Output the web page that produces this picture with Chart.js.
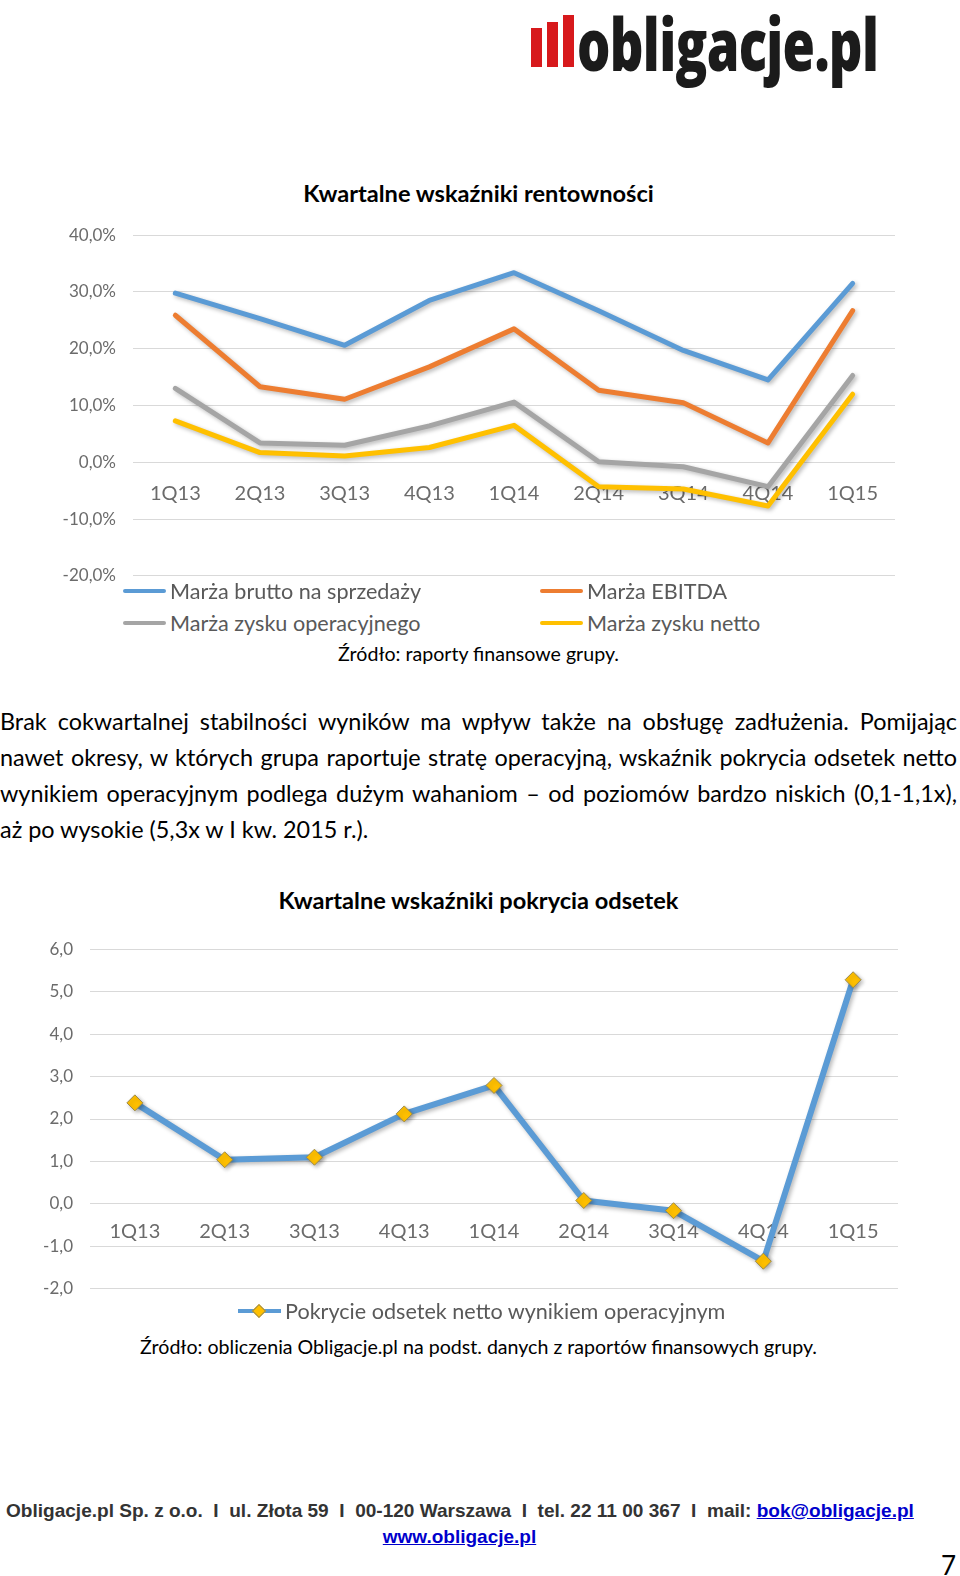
<!DOCTYPE html>
<html lang="pl">
<head>
<meta charset="utf-8">
<script src="https://cdn.jsdelivr.net/npm/chart.js@4.4.1/dist/chart.umd.min.js"></script>
<style>
  html, body { margin: 0; padding: 0; background: #fff; }
  body { position: relative; width: 960px; height: 1576px; overflow: hidden; font-family: Lato, "Open Sans", sans-serif; color: #000; }
  .abs { position: absolute; }
  .bar { position: absolute; background: #d7191c; width: 11px; }
  #logoText { position: absolute; left: 577px; top: 6px; font-family: "Open Sans", sans-serif; font-weight: 800; font-size: 73px; line-height: 73px; color: #1b1b1b; letter-spacing: -1px; transform-origin: 0 0; white-space: nowrap; }
  .title { position: absolute; left: 0; width: 957px; text-align: center; font-weight: bold; font-size: 23.6px; line-height: 28px; }
  .source { position: absolute; left: 0; width: 957px; text-align: center; font-size: 19.6px; line-height: 24px; }
  .para { position: absolute; left: 0; top: 704px; width: 957px; font-size: 23.4px; line-height: 35.9px; }
  .para span { display: block; text-align: justify; text-align-last: justify; white-space: nowrap; }
  .para span.last { text-align-last: left; }
  .leg { position: absolute; display: flex; align-items: center; font-size: 21.6px; color: #595959; white-space: nowrap; height: 26px; }
  .leg i { display: inline-block; width: 43px; height: 4px; margin-right: 4px; border-radius: 2px; }
  #footer { position: absolute; left: 6px; top: 1500px; font-family: "Liberation Sans Narrow", "Arial Narrow", "Liberation Sans", Arial, sans-serif; font-weight: bold; font-size: 19px; line-height: 22px; color: #333; white-space: nowrap; transform-origin: 0 0; }
  a { color: #0000cc; text-decoration: underline; }
  #www { position: absolute; left: 0; width: 919px; text-align: center; top: 1526px; font-family: "Liberation Sans Narrow", "Arial Narrow", "Liberation Sans", Arial, sans-serif; font-weight: bold; font-size: 19px; line-height: 22px; }
  #page { position: absolute; left: 941px; top: 1550px; font-size: 26px; line-height: 30px; }
</style>
</head>
<body>

<div class="bar" style="left:531px; top:28px; height:39px;"></div>
<div class="bar" style="left:547px; top:22px; height:45px;"></div>
<div class="bar" style="left:563px; top:15px; height:52px;"></div>
<div id="logoText">obligacje.pl</div>

<div class="title" style="top:179px;">Kwartalne wskaźniki rentowności</div>
<canvas id="chart1" class="abs" width="905" height="365" style="left:0; top:223px;"></canvas>
<div id="legend1"></div>
<div class="source" style="top:642px;">Źródło: raporty finansowe grupy.</div>

<div class="para">
  <span>Brak cokwartalnej stabilności wyników ma wpływ także na obsługę zadłużenia. Pomijając</span>
  <span>nawet okresy, w których grupa raportuje stratę operacyjną, wskaźnik pokrycia odsetek netto</span>
  <span>wynikiem operacyjnym podlega dużym wahaniom – od poziomów bardzo niskich (0,1-1,1x),</span>
  <span class="last">aż po wysokie (5,3x w I kw. 2015 r.).</span>
</div>

<div class="title" style="top:886px;">Kwartalne wskaźniki pokrycia odsetek</div>
<canvas id="chart2" class="abs" width="908" height="364" style="left:0; top:937px;"></canvas>
<div id="legend2"></div>
<div class="source" style="top:1335px;">Źródło: obliczenia Obligacje.pl na podst. danych z raportów finansowych grupy.</div>

<div id="footer">Obligacje.pl Sp. z o.o. &nbsp;I&nbsp; ul. Złota 59 &nbsp;I&nbsp; 00-120 Warszawa &nbsp;I&nbsp; tel. 22 11 00 367 &nbsp;I&nbsp; mail: <a>bok@obligacje.pl</a></div>
<div id="www"><a>www.obligacje.pl</a></div>
<div id="page">7</div>

<script>
// dane
const quarters = ['1Q13', '2Q13', '3Q13', '4Q13', '1Q14', '2Q14', '3Q14', '4Q14', '1Q15'];

const grossMargin     = [29.8, 25.3, 20.6, 28.5, 33.4, 26.7, 19.7, 14.5, 31.5];
const ebitdaMargin    = [25.9, 13.3, 11.1, 16.8, 23.5, 12.7, 10.5, 3.4, 26.7];
const operatingMargin = [13.0, 3.4, 3.0, 6.4, 10.6, 0.1, -0.8, -4.3, 15.3];
const netMargin       = [7.3, 1.7, 1.1, 2.6, 6.5, -4.3, -4.7, -7.7, 12.0];

const interestCoverage = [2.38, 1.04, 1.10, 2.12, 2.79, 0.08, -0.16, -1.35, 5.28];

const marginLabels = ['Marża brutto na sprzedaży', 'Marża EBITDA', 'Marża zysku operacyjnego', 'Marża zysku netto'];
const marginColors = ['#5b9bd5', '#ed7d31', '#a5a5a5', '#ffc000'];
const coverageLabel = 'Pokrycie odsetek netto wynikiem operacyjnym';

const shadowPlugin = {
    id: 'shadow',
    beforeDatasetDraw(chart) {
        const ctx = chart.ctx;
        ctx.save();
        ctx.shadowColor = 'rgba(0,0,0,0.28)';
        ctx.shadowBlur = 4;
        ctx.shadowOffsetX = 2;
        ctx.shadowOffsetY = 2;
    },
    afterDatasetDraw(chart) {
        chart.ctx.restore();
    }
};

function fmt(v, pct) {
    return v.toFixed(1).replace('.', ',') + (pct ? '%' : '');
}

// x axis sits on the zero line
function xAxis(pad) {
    return {
        position: { y: 0 },
        offset: true,
        grid: { display: false },
        border: { display: false },
        ticks: { padding: pad, color: '#6b6b6b', font: { size: 20 }, maxRotation: 0 }
    };
}

// build chart, then resize/move the canvas so the plot area lands on [top, bottom]
function placeChart(canvas, makeConfig, top, bottom) {
    let chart = new Chart(canvas, makeConfig());
    const want = bottom - top;
    const got = chart.chartArea.bottom - chart.chartArea.top;
    if (Math.abs(want - got) > 0.5) {
        const h = canvas.height + (want - got);
        const w = canvas.width;
        chart.destroy();
        canvas.width = w;
        canvas.height = h;
        canvas.style.width = w + 'px';
        canvas.style.height = h + 'px';
        chart = new Chart(canvas, makeConfig());
    }
    canvas.style.top = (top - chart.chartArea.top) + 'px';
    return chart;
}

function buildCharts() {
    Chart.defaults.font.family = 'Lato';
    Chart.defaults.color = '#666';

    // wykres 1 - rentownosc
    const series = [grossMargin, ebitdaMargin, operatingMargin, netMargin];
    const chart1 = placeChart(document.getElementById('chart1'), () => ({
        type: 'line',
        data: {
            labels: quarters,
            datasets: series.map((d, i) => ({
                label: marginLabels[i],
                data: d,
                borderColor: marginColors[i],
                backgroundColor: marginColors[i],
                borderWidth: 5,
                pointRadius: 0,
                tension: 0,
                borderJoinStyle: 'round',
                borderCapStyle: 'round'
            }))
        },
        options: {
            responsive: false,
            animation: false,
            layout: { padding: { top: 12, bottom: 12, left: 0, right: 10 } },
            plugins: { legend: { display: false }, tooltip: { enabled: false } },
            scales: {
                x: xAxis(11),
                y: {
                    min: -20, max: 40,
                    ticks: { stepSize: 10, padding: 17, color: '#6b6b6b', font: { size: 17 }, callback: v => fmt(v, true) },
                    grid: { color: '#d9d9d9', drawTicks: false },
                    border: { display: false },
                    afterFit: s => { s.width = 133; }
                }
            }
        },
        plugins: [shadowPlugin]
    }), 235, 576);

    // legenda 1 (2 kolumny jak w Excelu)
    const items1 = Chart.defaults.plugins.legend.labels.generateLabels(chart1);
    const cols = [123, 540];
    const rows = [578, 610];
    const leg1 = document.getElementById('legend1');
    items1.forEach((it, i) => {
        const el = document.createElement('div');
        el.className = 'leg';
        el.style.left = cols[i % 2] + 'px';
        el.style.top = rows[Math.floor(i / 2)] + 'px';
        el.innerHTML = '<i style="background:' + it.strokeStyle + '"></i>' + it.text;
        leg1.appendChild(el);
    });

    // wykres 2 - pokrycie odsetek
    const chart2 = placeChart(document.getElementById('chart2'), () => ({
        type: 'line',
        data: {
            labels: quarters,
            datasets: [{
                label: coverageLabel,
                data: interestCoverage,
                borderColor: '#5b9bd5',
                borderWidth: 6,
                tension: 0,
                borderJoinStyle: 'round',
                pointStyle: 'rectRot',
                pointRadius: 8,
                pointBackgroundColor: '#ffc000',
                pointBorderColor: '#9c8a4a',
                pointBorderWidth: 1
            }]
        },
        options: {
            responsive: false,
            animation: false,
            layout: { padding: { top: 12, bottom: 12, left: 0, right: 10 } },
            plugins: { legend: { display: false }, tooltip: { enabled: false } },
            scales: {
                x: xAxis(8),
                y: {
                    min: -2, max: 6,
                    ticks: { stepSize: 1, padding: 17, color: '#6b6b6b', font: { size: 17 }, callback: v => fmt(v, false) },
                    grid: { color: '#d9d9d9', drawTicks: false },
                    border: { display: false },
                    afterFit: s => { s.width = 90; }
                }
            }
        },
        plugins: [shadowPlugin]
    }), 949, 1289);

    const it2 = Chart.defaults.plugins.legend.labels.generateLabels(chart2)[0];
    const leg2 = document.createElement('div');
    leg2.className = 'leg';
    leg2.style.left = '238px';
    leg2.style.top = '1298px';
    leg2.innerHTML = '<span style="position:relative;display:inline-block;width:43px;height:16px;margin-right:4px;">' +
        '<span style="position:absolute;left:0;top:6px;width:43px;height:4px;background:' + it2.strokeStyle + '"></span>' +
        '<span style="position:absolute;left:16px;top:3px;width:10px;height:10px;transform:rotate(45deg);background:#ffc000;border:1px solid #9c8a4a;box-sizing:border-box;"></span>' +
        '</span>' + it2.text;
    document.getElementById('legend2').appendChild(leg2);
}

function fitText() {
    const logo = document.getElementById('logoText');
    logo.style.transform = 'scaleX(' + (301 / logo.scrollWidth) + ')';
    const foot = document.getElementById('footer');
    foot.style.transform = 'scaleX(' + (908 / foot.scrollWidth) + ')';
}

Promise.all([
    document.fonts.load('20px Lato'),
    document.fonts.load('bold 20px Lato'),
    document.fonts.load('800 73px "Open Sans"')
]).catch(() => {}).then(() => {
    fitText();
    buildCharts();
});
</script>
</body>
</html>
